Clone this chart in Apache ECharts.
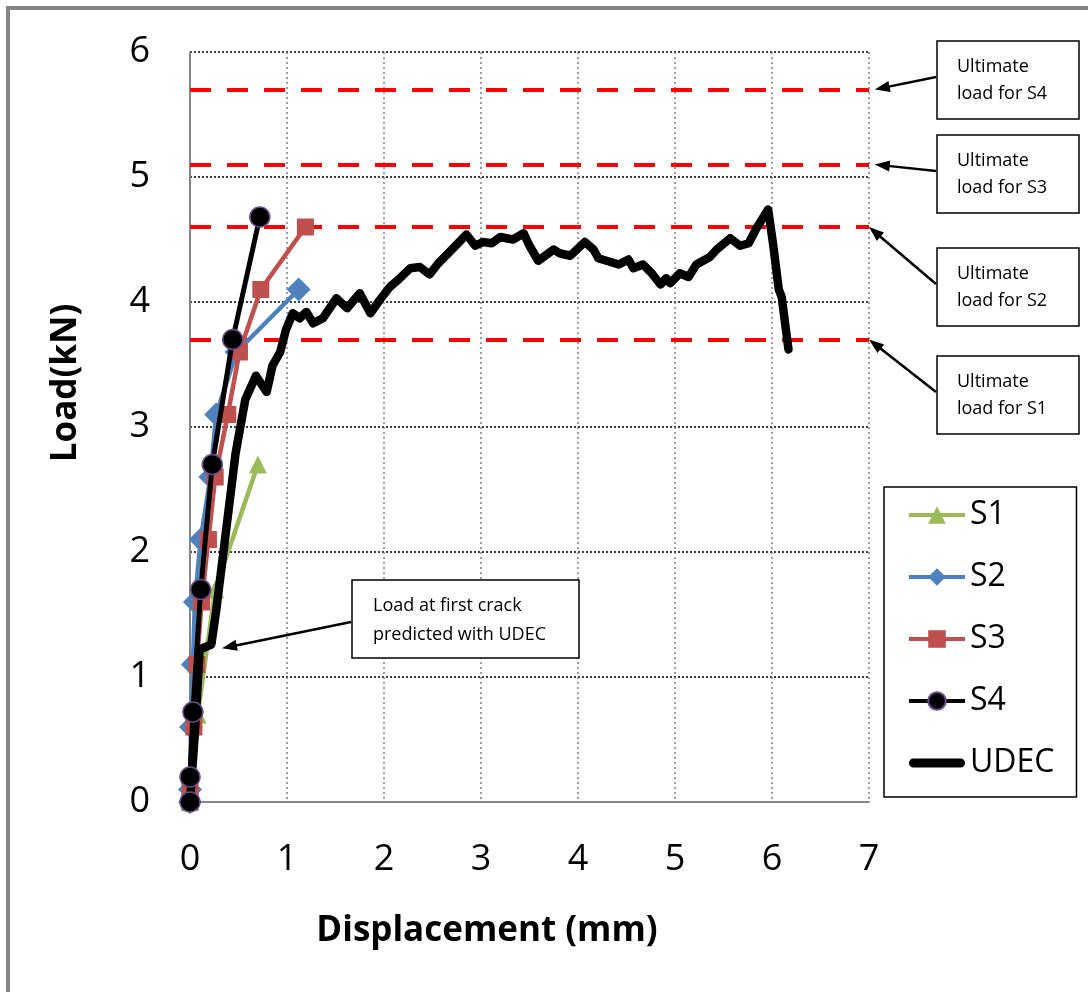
<!DOCTYPE html>
<html><head><meta charset="utf-8">
<script src="https://cdn.jsdelivr.net/npm/echarts@6/dist/echarts.min.js"></script>
<style>html,body{margin:0;padding:0;background:#fff}#c{width:1088px;height:992px}</style>
</head><body><div id="c"></div>
<script>
// ---------------- data ----------------
const seriesNames = ['S1', 'S2', 'S3', 'S4', 'UDEC'];
const s1X = [0, 0.08, 0.26, 0.70];
const s1Y = [0, 0.70, 1.70, 2.70];
const s2X = [0, 0, 0.01, 0.03, 0.05, 0.11, 0.21, 0.27, 0.48, 1.12];
const s2Y = [0, 0.10, 0.60, 1.10, 1.60, 2.10, 2.60, 3.10, 3.60, 4.10];
const s3X = [0, 0, 0.04, 0.07, 0.12, 0.19, 0.26, 0.39, 0.51, 0.73, 1.19];
const s3Y = [0, 0.10, 0.60, 1.10, 1.60, 2.10, 2.60, 3.10, 3.60, 4.10, 4.60];
const s4X = [0, 0, 0.03, 0.11, 0.23, 0.44, 0.72];
const s4Y = [0, 0.20, 0.72, 1.70, 2.70, 3.70, 4.68];
const udecX = [0, 0.05, 0.10, 0.22, 0.27, 0.47, 0.57, 0.68, 0.79, 0.85, 0.93, 0.99, 1.06, 1.13, 1.20, 1.27, 1.37, 1.51, 1.62, 1.75, 1.86, 1.96, 2.06, 2.15, 2.27, 2.37, 2.47, 2.56, 2.65, 2.75, 2.85, 2.94, 3.02, 3.11, 3.20, 3.33, 3.44, 3.50, 3.59, 3.75, 3.81, 3.92, 4.07, 4.16, 4.21, 4.42, 4.52, 4.57, 4.67, 4.76, 4.85, 4.91, 4.95, 5.05, 5.14, 5.22, 5.36, 5.43, 5.57, 5.67, 5.76, 5.84, 5.96, 6.01, 6.07, 6.10, 6.17];
const udecY = [0, 0.55, 1.22, 1.26, 1.53, 2.79, 3.22, 3.41, 3.28, 3.49, 3.60, 3.78, 3.91, 3.87, 3.92, 3.83, 3.87, 4.03, 3.95, 4.07, 3.91, 4.02, 4.12, 4.18, 4.27, 4.28, 4.22, 4.31, 4.38, 4.46, 4.54, 4.45, 4.48, 4.47, 4.52, 4.50, 4.55, 4.45, 4.33, 4.42, 4.39, 4.37, 4.48, 4.42, 4.35, 4.30, 4.34, 4.27, 4.30, 4.23, 4.14, 4.19, 4.15, 4.23, 4.20, 4.30, 4.36, 4.42, 4.51, 4.45, 4.47, 4.59, 4.74, 4.47, 4.10, 4.04, 3.62];
const ultimateLoads = [3.7, 4.6, 5.1, 5.7];             // S1..S4
const ultimateLabels = ['Ultimate\nload for S1', 'Ultimate\nload for S2', 'Ultimate\nload for S3', 'Ultimate\nload for S4'];
const ultimateArrowTipX = [7.0, 7.0, 7.06, 7.06];
const crackLabel = 'Load at first crack\npredicted with UDEC';
const crackTip = [0.33, 1.23];
const xTitle = 'Displacement (mm)';
const yTitle = 'Load(kN)';

// ---------------- chart ----------------
const FONT = '"Open Sans", "Noto Sans", sans-serif';
const zip = (xs, ys) => xs.map((x, i) => [x, ys[i]]);
const chart = echarts.init(document.getElementById('c'));

const option = {
  animation: false,
  backgroundColor: '#fff',
  grid: { left: 190, top: 52, width: 679, height: 750 },
  xAxis: {
    type: 'value', min: 0, max: 7, interval: 1,
    axisLine: { show: true, lineStyle: { color: '#868686', width: 2 } },
    axisTick: { show: false },
    axisLabel: { color: '#000', fontSize: 36, fontFamily: FONT, margin: 40 },
    splitLine: { show: true, lineStyle: { color: '#7f7f7f', type: [2, 3], width: 1.5 } }
  },
  yAxis: {
    type: 'value', min: 0, max: 6, interval: 1,
    axisLine: { show: true, lineStyle: { color: '#868686', width: 2 } },
    axisTick: { show: false },
    axisLabel: { color: '#000', fontSize: 36, fontFamily: FONT, margin: 40 },
    splitLine: { show: true, lineStyle: { color: '#000', type: [2, 2], width: 1.5 } }
  },
  legend: {
    data: [
      { name: 'S1', lineStyle: { width: 4 } },
      { name: 'S2', lineStyle: { width: 4 } },
      { name: 'S3', lineStyle: { width: 4 } },
      { name: 'S4', lineStyle: { width: 4 } },
      { name: 'UDEC', icon: 'path://M4,0H52A4.5,4.5,0,0,1,52,9H4A4.5,4.5,0,0,1,4,0Z', itemStyle: { color: '#000' } }
    ],
    orient: 'vertical',
    left: 884, top: 487,
    padding: [8, 22, 14, 23],
    itemWidth: 56, itemHeight: 22, itemGap: 22,
    borderColor: '#000', borderWidth: 1.5,
    backgroundColor: '#fff',
    textStyle: { color: '#000', fontSize: 32, fontFamily: FONT, lineHeight: 40 }
  },
  series: [
    {
      name: 'Ultimate', type: 'line', data: [], z: 3,
      markLine: {
        silent: true, symbol: ['none', 'none'], animation: false,
        label: { show: false },
        lineStyle: { color: '#ff0000', width: 4, type: [21, 16] },
        emphasis: { disabled: true },
        data: ultimateLoads.map(v => ({ yAxis: v }))
      }
    },
    { name: 'S1', type: 'line', data: zip(s1X, s1Y), z: 4, symbol: 'triangle', symbolSize: 18,
      lineStyle: { color: '#9BBB59', width: 4.5 }, itemStyle: { color: '#9BBB59' } },
    { name: 'S2', type: 'line', data: zip(s2X, s2Y), z: 5, symbol: 'diamond', symbolSize: 24,
      lineStyle: { color: '#4F81BD', width: 4.5 }, itemStyle: { color: '#4F81BD' } },
    { name: 'S3', type: 'line', data: zip(s3X, s3Y), z: 6, symbol: 'rect', symbolSize: 17,
      lineStyle: { color: '#C0504D', width: 4.5 }, itemStyle: { color: '#C0504D' } },
    { name: 'UDEC', type: 'line', data: zip(udecX, udecY), z: 7, symbol: 'none', showSymbol: false,
      lineStyle: { color: '#000', width: 8.5, join: 'round', cap: 'round' }, itemStyle: { color: '#000' } },
    { name: 'S4', type: 'line', data: zip(s4X, s4Y), z: 8, symbol: 'circle', symbolSize: 20,
      lineStyle: { color: '#000', width: 5 }, itemStyle: { color: '#000', borderColor: '#6B4E8C', borderWidth: 1.5 } }
  ]
};
chart.setOption(option);

// ---------------- annotations ----------------
const px = p => chart.convertToPixel({ gridIndex: 0 }, p);
function arrow(from, to) {
  const dx = to[0] - from[0], dy = to[1] - from[1];
  const len = Math.hypot(dx, dy), ux = dx / len, uy = dy / len;
  const L = 15, W = 11;
  const bx = to[0] - ux * L, by = to[1] - uy * L;
  return [
    { type: 'line', z: 100, silent: true, shape: { x1: from[0], y1: from[1], x2: bx + ux * 2, y2: by + uy * 2 },
      style: { stroke: '#000', lineWidth: 2.5 } },
    { type: 'polygon', z: 100, silent: true, shape: { points: [to, [bx - uy * W / 2, by + ux * W / 2], [bx + uy * W / 2, by - ux * W / 2]] },
      style: { fill: '#000' } }
  ];
}
const graphics = [];
graphics.push({ type: 'rect', z: 1, silent: true, shape: { x: 8, y: 8, width: 1400, height: 1400 },
  style: { fill: null, stroke: '#868686', lineWidth: 4 } });
// axis titles
graphics.push({ type: 'text', z: 100, silent: true, x: 487, y: 931,
  style: { text: xTitle, font: 'bold 35px ' + FONT, fill: '#000', align: 'center', verticalAlign: 'middle' } });
graphics.push({ type: 'text', z: 100, silent: true, x: 66, y: 383, rotation: Math.PI / 2,
  style: { text: yTitle, font: 'bold 35px ' + FONT, fill: '#000', align: 'center', verticalAlign: 'middle' } });
// ultimate boxes
const boxTops = [356, 248, 135, 41];
ultimateLoads.forEach((v, i) => {
  const top = boxTops[i];
  graphics.push({ type: 'rect', z: 100, silent: true, shape: { x: 937, y: top, width: 142, height: 78 },
    style: { fill: '#fff', stroke: '#000', lineWidth: 1.5 } });
  graphics.push({ type: 'text', z: 101, silent: true, x: 957, y: top + 12,
    style: { text: ultimateLabels[i], font: '18px ' + FONT, lineHeight: 27, fill: '#000', align: 'left', verticalAlign: 'top' } });
  graphics.push(...arrow([936, top + 36], px([ultimateArrowTipX[i], v])));
});
// first crack box
graphics.push({ type: 'rect', z: 100, silent: true, shape: { x: 352, y: 580, width: 227, height: 78 },
  style: { fill: '#fff', stroke: '#000', lineWidth: 1.5 } });
graphics.push({ type: 'text', z: 101, silent: true, x: 373, y: 591,
  style: { text: crackLabel, font: '18px ' + FONT, lineHeight: 29, fill: '#000', align: 'left', verticalAlign: 'top' } });
graphics.push(...arrow([351, 622], px(crackTip)));

chart.setOption({ graphic: { elements: graphics } });
</script>
</body></html>
